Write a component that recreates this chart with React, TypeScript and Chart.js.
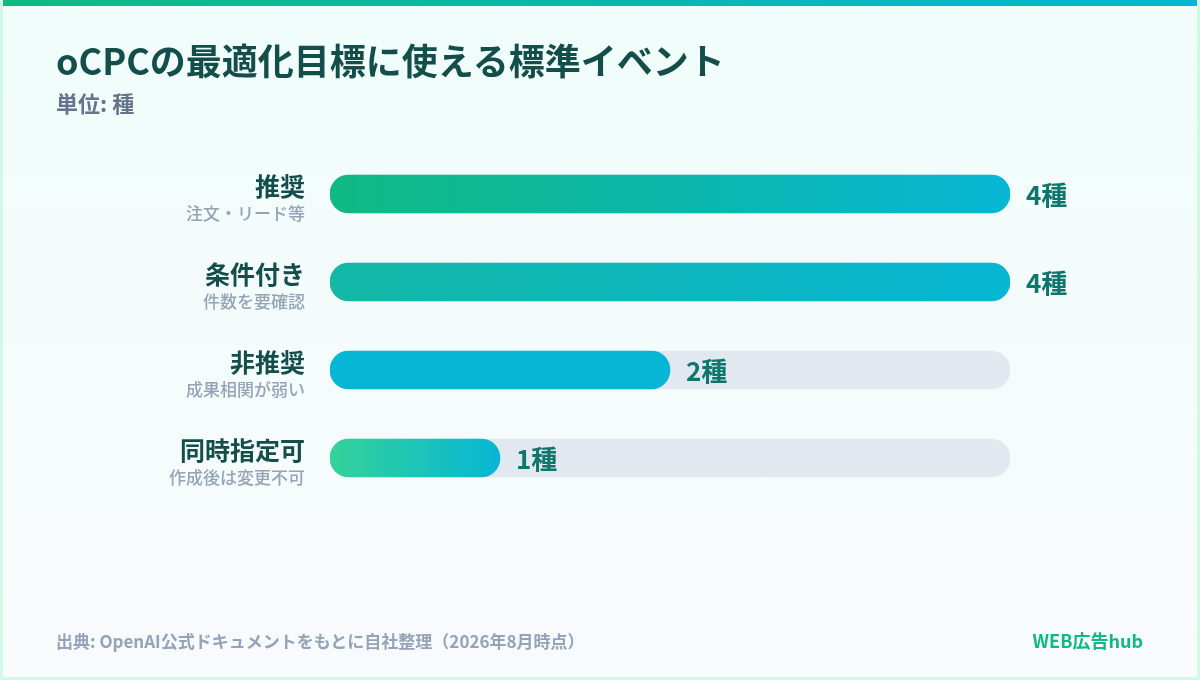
import { useEffect, useRef } from 'react'
import { Chart, registerables } from 'chart.js'

Chart.register(...registerables)

const categories = ['推奨', '条件付き', '非推奨', '同時指定可']
const subLabels = ['注文・リード等', '件数を要確認', '成果相関が弱い', '作成後は変更不可']
const counts = [4, 4, 2, 1]
const trackMax = [4, 4, 4, 4]
const valueLabels = ['4種', '4種', '2種', '1種']
const startColors = ['#10b981', '#14b8a6', '#06b6d4', '#34d399']
const endColors = ['#06b6d4', '#06b6d4', '#06b6d4', '#06b6d4']

const FONT = '"Noto Sans CJK JP", "Noto Sans", sans-serif'

// draws the two-line category labels and the value text next to each bar
const labelPlugin = {
  id: 'rowLabels',
  afterDatasetsDraw(chart: any) {
    const { ctx, scales } = chart
    const x = scales.x
    const y = scales.y
    ctx.save()
    categories.forEach((cat, i) => {
      const cy = y.getPixelForValue(i)
      ctx.textAlign = 'right'
      ctx.textBaseline = 'alphabetic'
      ctx.fillStyle = '#134e4a'
      ctx.font = `bold 25px ${FONT}`
      ctx.fillText(cat, 305, cy + 2)
      ctx.fillStyle = '#94a3b8'
      ctx.font = `500 17px ${FONT}`
      ctx.fillText(subLabels[i], 305, cy + 26)

      ctx.textAlign = 'left'
      ctx.textBaseline = 'middle'
      ctx.fillStyle = '#0f766e'
      ctx.font = `bold 26px ${FONT}`
      ctx.fillText(valueLabels[i], x.getPixelForValue(counts[i]) + 16, cy + 1)
    })
    ctx.restore()
  },
}

function BarChart() {
  const chartRef = useRef<HTMLCanvasElement>(null)
  const chartInstance = useRef<Chart | null>(null)

  useEffect(() => {
    if (!chartRef.current) return
    const ctx = chartRef.current.getContext('2d')
    if (!ctx) return

    const barFill = (context: any) => {
      const chart = context.chart
      const i = context.dataIndex
      const xs = chart.scales?.x
      if (!xs || !chart.chartArea) return startColors[i]
      const x0 = xs.getPixelForValue(0)
      const x1 = xs.getPixelForValue(counts[i])
      const g = chart.ctx.createLinearGradient(x0, 0, x1, 0)
      g.addColorStop(0, startColors[i])
      g.addColorStop(1, endColors[i])
      return g
    }

    chartInstance.current = new Chart(ctx, {
      type: 'bar',
      data: {
        labels: categories,
        datasets: [
          {
            label: 'count',
            data: counts,
            backgroundColor: barFill,
            borderRadius: 19,
            borderSkipped: false,
            barThickness: 38,
            grouped: false,
            order: 0,
          },
          {
            label: 'track',
            data: trackMax,
            backgroundColor: '#e2e8f0',
            borderRadius: 19,
            borderSkipped: false,
            barThickness: 38,
            grouped: false,
            order: 1,
          },
        ],
      },
      options: {
        indexAxis: 'y',
        animation: false,
        responsive: false,
        layout: { padding: { left: 330, right: 190, top: 150, bottom: 178 } },
        scales: {
          x: { display: false, min: 0, max: 4 },
          y: { display: false },
        },
        plugins: {
          legend: { display: false },
          tooltip: { enabled: false },
        },
      },
      plugins: [labelPlugin],
    })

    return () => {
      if (chartInstance.current) {
        chartInstance.current.destroy()
        chartInstance.current = null
      }
    }
  }, [])

  return <canvas ref={chartRef} width={1200} height={680} style={{ position: 'absolute', left: -3, top: 0 }} />
}

export default function App() {
  useEffect(() => {
    document.body.style.margin = '0'
  }, [])

  return (
    <div
      style={{
        position: 'relative',
        width: 1200,
        height: 680,
        boxSizing: 'border-box',
        border: '3px solid #d1fae5',
        borderTop: 'none',
        background: 'linear-gradient(180deg, #f0fdfa 0%, #f8fafc 100%)',
        fontFamily: FONT,
        overflow: 'hidden',
      }}
    >
      <div
        style={{
          position: 'absolute',
          left: -3,
          right: -3,
          top: 0,
          height: 6,
          background: 'linear-gradient(90deg, #10b981, #06b6d4)',
        }}
      />
      <BarChart />
      <div style={{ position: 'absolute', left: 53, top: 38, fontSize: 36, fontWeight: 700, color: '#134e4a', lineHeight: 1.2 }}>
        oCPCの最適化目標に使える標準イベント
      </div>
      <div style={{ position: 'absolute', left: 53, top: 89, fontSize: 22, fontWeight: 700, color: '#64748b', lineHeight: 1.2 }}>
        単位: 種
      </div>
      <div style={{ position: 'absolute', left: 53, top: 631, fontSize: 17, fontWeight: 700, color: '#94a3b8', lineHeight: 1.2 }}>
        出典: OpenAI公式ドキュメントをもとに自社整理（2026年8月時点）
      </div>
      <div style={{ position: 'absolute', right: 54, top: 630, fontSize: 18, fontWeight: 700, color: '#10b981', lineHeight: 1.2 }}>
        WEB広告hub
      </div>
    </div>
  )
}
